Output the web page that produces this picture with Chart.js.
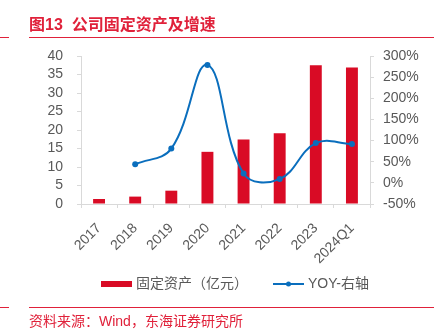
<!DOCTYPE html>
<html>
<head>
<meta charset="utf-8">
<script src="https://cdn.jsdelivr.net/npm/chart.js@4.4.0/dist/chart.umd.min.js"></script>
<style>
  html, body { margin: 0; padding: 0; background: #ffffff; }
  #wrap { position: relative; width: 434px; height: 333px; overflow: hidden; font-family: "Liberation Sans", "Noto Sans CJK SC", sans-serif; }
  #title { position: absolute; left: 29px; top: 15px; font-size: 16px; font-weight: bold; color: #e0213a; white-space: nowrap; font-family: "Liberation Sans", "Noto Sans CJK SC", sans-serif; line-height: 20px; }
  .rule { position: absolute; height: 1px; background: #e0213a; }
  #source { position: absolute; left: 29px; top: 312px; font-size: 14px; color: #e0213a; white-space: nowrap; line-height: 18px; font-family: "Liberation Sans", "Noto Sans CJK SC", sans-serif; }
  canvas { position: absolute; left: 0; top: 0; }
</style>
</head>
<body>
<div id="wrap">
  <canvas id="c" width="434" height="333"></canvas>
  <div id="title">图13&nbsp;&nbsp;公司固定资产及增速</div>
  <div class="rule" style="left:0;top:37px;width:9px;"></div>
  <div class="rule" style="left:29px;top:37px;width:405px;"></div>
  <div class="rule" style="left:0;top:307px;width:9px;"></div>
  <div class="rule" style="left:29px;top:307px;width:405px;"></div>
  <div id="source">资料来源：Wind，东海证券研究所</div>
</div>
<script>
const categories = ["2017", "2018", "2019", "2020", "2021", "2022", "2023", "2024Q1"];
const fixedAssets = [1.35, 2.0, 3.6, 14.1, 17.4, 19.1, 37.5, 36.9];
const yoy = [null, 44, 81, 279, 22, 9, 94, 92];
const leftTicks = { min: 0, max: 40, step: 5 };
const rightTicks = { min: -50, max: 300, step: 50 };
const barLabel = "固定资产（亿元）";
const lineLabel = "YOY-右轴";

const RED = "#d90b25";
const BLUE = "#0a6ebd";
const GREY_TEXT = "#595959";
const AXIS = "#d9d9d9";
const FONT = "'Liberation Sans', 'Noto Sans CJK SC', sans-serif";

const customLegend = {
  id: "customLegend",
  afterDraw(chart) {
    const ctx = chart.ctx;
    const y = 284;
    ctx.save();
    ctx.font = "14px " + FONT;
    ctx.textBaseline = "middle";
    ctx.textAlign = "left";
    const ds0 = chart.data.datasets[0];
    ctx.fillStyle = ds0.backgroundColor;
    ctx.fillRect(101, y - 3, 31, 6);
    ctx.fillStyle = GREY_TEXT;
    ctx.fillText(ds0.label, 136, y);
    const ds1 = chart.data.datasets[1];
    ctx.strokeStyle = ds1.borderColor;
    ctx.lineWidth = 2;
    ctx.beginPath();
    ctx.moveTo(273, y);
    ctx.lineTo(304, y);
    ctx.stroke();
    ctx.fillStyle = ds1.borderColor;
    ctx.beginPath();
    ctx.arc(288.5, y, 2.5, 0, Math.PI * 2);
    ctx.fill();
    ctx.fillStyle = GREY_TEXT;
    ctx.fillText(ds1.label, 308, y);
    ctx.restore();
  }
};

new Chart(document.getElementById("c"), {
  type: "bar",
  data: {
    labels: categories,
    datasets: [
      {
        type: "bar",
        label: barLabel,
        data: fixedAssets,
        backgroundColor: RED,
        yAxisID: "y",
        categoryPercentage: 1,
        barPercentage: 0.33,
        order: 2
      },
      {
        type: "line",
        label: lineLabel,
        data: yoy,
        borderColor: BLUE,
        backgroundColor: BLUE,
        borderWidth: 2,
        pointRadius: 3,
        pointHoverRadius: 3,
        pointBackgroundColor: BLUE,
        pointBorderWidth: 0,
        tension: 0.4,
        yAxisID: "y1",
        order: 1
      }
    ]
  },
  options: {
    responsive: false,
    animation: false,
    devicePixelRatio: 1,
    layout: { padding: { top: 56, left: 0, right: 0, bottom: 69 } },
    plugins: {
      legend: { display: false },
      tooltip: { enabled: false }
    },
    scales: {
      x: {
        offset: true,
        grid: { display: true, drawOnChartArea: false, drawTicks: true, tickLength: 4, tickColor: AXIS, offset: true },
        border: { display: true, color: AXIS, width: 1 },
        ticks: { color: GREY_TEXT, font: { size: 14, family: FONT }, maxRotation: 45, minRotation: 45, padding: 12, autoSkip: false },
        afterFit(s) { s.height = 60; }
      },
      y: {
        position: "left",
        min: leftTicks.min,
        max: leftTicks.max,
        grid: { display: true, drawOnChartArea: false, drawTicks: true, tickLength: 4, tickColor: AXIS },
        border: { display: true, color: AXIS, width: 1 },
        ticks: { stepSize: leftTicks.step, autoSkip: false, color: GREY_TEXT, font: { size: 14, family: FONT }, padding: 14 },
        afterFit(s) { s.width = 81; }
      },
      y1: {
        position: "right",
        min: rightTicks.min,
        max: rightTicks.max,
        grid: { display: true, drawOnChartArea: false, drawTicks: true, tickLength: 4, tickColor: AXIS },
        border: { display: true, color: AXIS, width: 1 },
        ticks: { stepSize: rightTicks.step, autoSkip: false, color: GREY_TEXT, font: { size: 14, family: FONT }, padding: 9, callback: v => v + "%" },
        afterFit(s) { s.width = 64; }
      }
    }
  },
  plugins: [customLegend]
});
</script>
</body>
</html>
